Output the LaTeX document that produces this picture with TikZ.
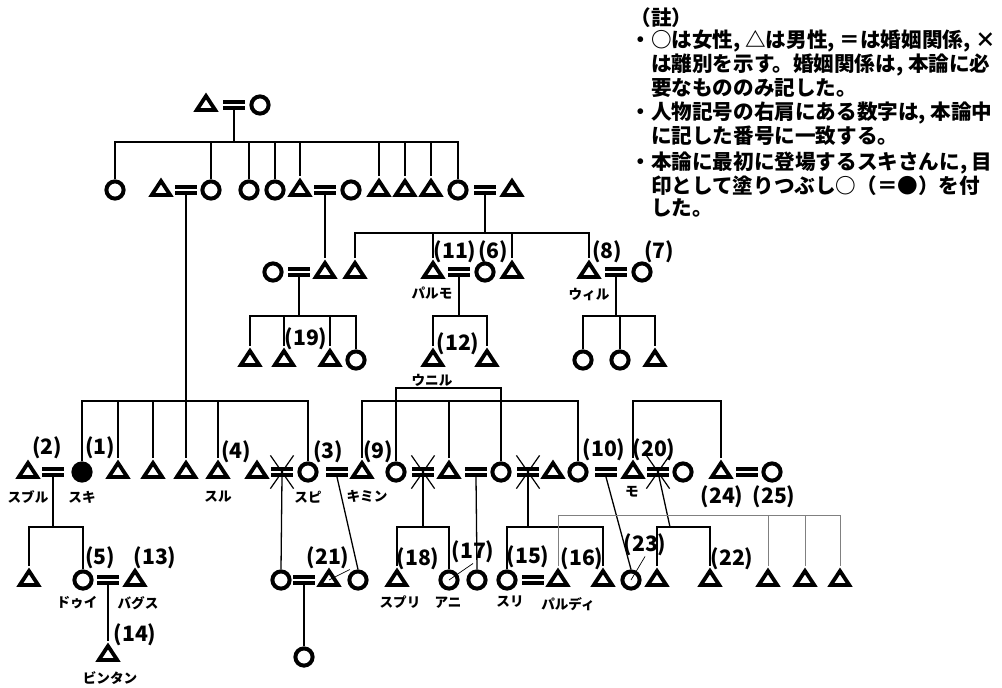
\documentclass[tikz,border=0pt]{standalone}
\usepackage{fontspec}
\usetikzlibrary{shapes.geometric,shapes.misc}
\newfontfamily\jp{Noto Sans CJK JP}
\newcommand{\notesize}{\fontsize{10.3}{10.8}\selectfont}

\begin{document}
\begin{tikzpicture}[x=0.5pt,y=-0.5pt,
	fem/.style={circle,draw,line width=2pt,minimum size=8.6pt,inner sep=0pt},
	femfill/.style={fem,fill},
	mal/.style={isosceles triangle,isosceles triangle stretches,shape border rotate=90,draw,line width=1.9pt,minimum width=9.2pt,minimum height=7pt,inner sep=0pt},
	wed/.style={minimum width=11pt,minimum height=4.6pt,inner sep=0pt,path picture={
		\fill (path picture bounding box.north west) rectangle ([yshift=-1.6pt]path picture bounding box.north east);
		\fill ([yshift=1.6pt]path picture bounding box.south west) rectangle (path picture bounding box.south east);}},
	divx/.style={cross out,draw,line width=0.6pt,minimum width=11pt,minimum height=16pt,inner sep=0pt},
	num/.style={font=\jp\bfseries\fontsize{10.6}{10.6}\selectfont,inner sep=0pt},
	nm/.style={font=\jp\bfseries\fontsize{6.8}{6.8}\selectfont,inner sep=0pt},
	lnk/.style={line width=0.65pt},
	thinlnk/.style={line width=0.4pt,gray},
	lead/.style={line width=0.35pt}]
\useasboundingbox (0,0) rectangle (1002,687);

% note
\node[font=\jp\bfseries\notesize,anchor=north west,inner sep=0pt] (note0) at (630,7) {（註）};
\node[font=\jp\bfseries\notesize,anchor=north west,inner sep=0pt,align=left] (note1) at (630,29)
	{・○は女性, △は男性, ＝は婚姻関係, ×\\\hspace*{1em}は離別を示す。婚姻関係は, 本論に必\\\hspace*{1em}要なもののみ記した。};
\node[font=\jp\bfseries\notesize,anchor=north west,inner sep=0pt,align=left] (note2) at (630,101)
	{・人物記号の右肩にある数字は, 本論中\\\hspace*{1em}に記した番号に一致する。};
\node[font=\jp\bfseries\notesize,anchor=north west,inner sep=0pt,align=left] (note3) at (630,151)
	{・本論に最初に登場するスキさんに, 目\\\hspace*{1em}印として塗りつぶし○（＝●）を付\\\hspace*{1em}した。};

% generation 1
\node[mal] (g0m) at (206,105) {};
\node[wed] (g0w) at (234,105) {};
\node[fem] (g0f) at (260,105) {};
\coordinate (k0) at (234,142);
\draw[lnk] (g0w.south) -- (k0);

% generation 2
\node[fem] (a1) at (115,190) {};
\node[mal] (a2) at (161,190) {};
\node[wed] (a2w) at (186,190) {};
\node[fem] (a3) at (211,190) {};
\node[fem] (a4) at (249,190) {};
\node[fem] (a5) at (275,190) {};
\node[mal] (a6) at (300,190) {};
\node[wed] (a6w) at (325,190) {};
\node[fem] (a7) at (351,190) {};
\node[mal] (a8) at (379,190) {};
\node[mal] (a9) at (405,190) {};
\node[mal] (a10) at (431,190) {};
\node[fem] (a11) at (458,190) {};
\node[wed] (a11w) at (485,190) {};
\node[mal] (a12) at (512,190) {};
\draw[lnk] (a1.north) |- (a11.north |- k0) -- (a11.north);
\foreach \n in {a3,a4,a5,a6,a8,a9,a10} \draw[lnk] (\n.north) -- (\n.north |- k0);

% generation 3
\node[fem] (b1) at (273,272) {};
\node[wed] (b1w) at (299,272) {};
\node[mal] (b2) at (325,272) {};
\node[mal] (b3) at (355,272) {};
\node[mal] (b4) at (433,272) {};
\node[wed] (b4w) at (459,272) {};
\node[fem] (b5) at (485,272) {};
\node[mal] (b6) at (512,272) {};
\node[mal] (b7) at (589,272) {};
\node[wed] (b7w) at (616,272) {};
\node[fem] (b8) at (642,272) {};
\draw[lnk] (a6w.south) -- (b2.north);
\coordinate (k1) at (485,233);
\draw[lnk] (a11w.south) -- (k1);
\draw[lnk] (b3.north) |- (b7.north |- k1) -- (b7.north);
\foreach \n in {b4,b6} \draw[lnk] (\n.north) -- (\n.north |- k1);

\node[mal] (c1) at (250,360) {};
\node[mal] (c2) at (284,360) {};
\node[mal] (c3) at (330,360) {};
\node[fem] (c4) at (356,360) {};
\coordinate (k2) at (299,316);
\draw[lnk] (b1w.south) -- (k2);
\draw[lnk] (c1.north) |- (c4.north |- k2) -- (c4.north);
\foreach \n in {c2,c3} \draw[lnk] (\n.north) -- (\n.north |- k2);

\node[mal] (c5) at (433,360) {};
\node[mal] (c6) at (487,360) {};
\coordinate (k3) at (459,316);
\draw[lnk] (b4w.south) -- (k3);
\draw[lnk] (c5.north) |- (c6.north |- k3) -- (c6.north);

\node[fem] (c7) at (583,360) {};
\node[fem] (c8) at (620,360) {};
\node[mal] (c9) at (655,360) {};
\coordinate (k4) at (616,316);
\draw[lnk] (b7w.south) -- (k4);
\draw[lnk] (c7.north) |- (c9.north |- k4) -- (c9.north);
\draw[lnk] (c8.north) -- (c8.north |- k4);

% generation 4
\node[mal] (d1) at (28,472) {};
\node[wed] (d1w) at (53,472) {};
\node[femfill] (d2) at (82,472) {};
\node[mal] (d3) at (118,472) {};
\node[mal] (d4) at (153,472) {};
\node[mal] (d5) at (186,472) {};
\node[mal] (d6) at (218,472) {};
\node[mal] (d7) at (257,472) {};
\node[wed] (d7w) at (282,472) {};
\node[divx] (d7x) at (282,472) {};
\node[fem] (d8) at (308,472) {};
\node[wed] (d8w) at (337,472) {};
\node[mal] (d9) at (362,472) {};
\node[fem] (d10) at (396,472) {};
\node[wed] (d10w) at (423,472) {};
\node[divx] (d10x) at (423,472) {};
\node[mal] (d11) at (449,472) {};
\node[wed] (d11w) at (476,472) {};
\node[fem] (d12) at (501,472) {};
\node[wed] (d12w) at (528,472) {};
\node[divx] (d12x) at (528,472) {};
\node[mal] (d13) at (553,472) {};
\node[fem] (d14) at (578,472) {};
\node[wed] (d14w) at (606,472) {};
\node[mal] (d15) at (633,472) {};
\node[wed] (d15w) at (658,472) {};
\node[divx] (d15x) at (658,472) {};
\node[fem] (d16) at (683,472) {};
\node[mal] (d17) at (721,472) {};
\node[wed] (d17w) at (747,472) {};
\node[fem] (d18) at (772,472) {};

\coordinate (k5) at (186,401);
\draw[lnk] (a2w.south) -- (k5);
\draw[lnk] (d2.north) |- (d8.north |- k5) -- (d8.north);
\foreach \n in {d3,d4,d5,d6} \draw[lnk] (\n.north) -- (\n.north |- k5);
\coordinate (k6) at (449,401);
\draw[lnk] (d9.north) |- (d14.north |- k6) -- (d14.north);
\draw[lnk] (d11.north) -- (d11.north |- k6);
\coordinate (k7) at (633,401);
\draw[lnk] (d15.north) |- (d17.north |- k7) -- (d17.north);
\coordinate (k8) at (449,388);
\draw[lnk] (d10.north) |- (d12.north |- k8) -- (d12.north);

% generation 5
\node[mal] (e1) at (29,580) {};
\node[fem] (e2) at (83,580) {};
\node[wed] (e2w) at (108,580) {};
\node[mal] (e3) at (135,580) {};
\coordinate (k9) at (53,527);
\draw[lnk] (d1w.south) -- (k9);
\draw[lnk] (e1.north) |- (e2.north |- k9) -- (e2.north);
\node[mal] (f1) at (108,655) {};
\draw[lnk] (e2w.south) -- (f1.north);

\node[fem] (e4) at (281,580) {};
\node[wed] (e4w) at (304,580) {};
\node[mal] (e5) at (329,580) {};
\draw[lnk] (d7w.south) -- (e4.north);
\node[fem] (f2) at (304,657) {};
\draw[lnk] (e4w.south) -- (f2.north);
\node[fem] (e6) at (358,580) {};
\draw[lnk] (d8w.south) -- (e6.north);

\node[mal] (e7) at (397,580) {};
\node[fem] (e8) at (449,580) {};
\coordinate (k10) at (423,527);
\draw[lnk] (d10w.south) -- (k10);
\draw[lnk] (e7.north) |- (e8.north |- k10) -- (e8.north);
\node[fem] (e9) at (477,580) {};
\draw[lnk] (d11w.south) -- (e9.north);

\node[fem] (e10) at (507,580) {};
\node[wed] (e10w) at (533,580) {};
\node[mal] (e11) at (558,580) {};
\node[mal] (e12) at (603,580) {};
\coordinate (k11) at (528,527);
\draw[lnk] (d12w.south) -- (k11);
\draw[lnk] (e10.north) |- (e12.north |- k11) -- (e12.north);

\node[fem] (e13) at (631,580) {};
\draw[lnk] (d14w.south) -- (e13.north);
\node[mal] (e14) at (657,580) {};
\node[mal] (e15) at (710,580) {};
\coordinate (k12) at (670,527);
\draw[lnk] (d15w.center) -- (k12);
\draw[lnk] (e14.north) |- (e15.north |- k12) -- (e15.north);

\node[mal] (e16) at (768,580) {};
\node[mal] (e17) at (805,580) {};
\node[mal] (e18) at (840,580) {};
\coordinate (k13) at (700,515);
\draw[thinlnk] (e11.north) |- (e18.north |- k13) -- (e18.north);
\foreach \n in {e16,e17} \draw[thinlnk] (\n.north) -- (\n.north |- k13);

% numbers
\node[num] (n11) at (455,252) {(11)};
\node[num] (n6) at (493,252) {(6)};
\node[num] (n8) at (607,252) {(8)};
\node[num] (n7) at (659,252) {(7)};
\node[num] (n19) at (306,339) {(19)};
\node[num] (n12) at (458,344) {(12)};
\node[num] (n2) at (47,448) {(2)};
\node[num] (n1) at (100,448) {(1)};
\node[num] (n4) at (236,452) {(4)};
\node[num] (n3) at (328,452) {(3)};
\node[num] (n9) at (378,452) {(9)};
\node[num] (n10) at (604,450) {(10)};
\node[num] (n20) at (654,450) {(20)};
\node[num] (n24) at (722,497) {(24)};
\node[num] (n25) at (774,497) {(25)};
\node[num] (n5) at (100,558) {(5)};
\node[num] (n13) at (155,558) {(13)};
\node[num] (n14) at (135,635) {(14)};
\node[num] (n21) at (328,558) {(21)};
\node[num] (n18) at (418,559) {(18)};
\node[num] (n17) at (473,552) {(17)};
\node[num] (n15) at (528,557) {(15)};
\node[num] (n16) at (582,559) {(16)};
\node[num] (n23) at (645,545) {(23)};
\node[num] (n22) at (732,559) {(22)};
\draw[lead] (n21.south east) -- (e5.center);
\draw[lead] (n17.south) -- (e8.center);
\draw[lead] (n23.south) -- (e13.center);

% names
\node[nm] (lParumo) at (432,293) {パルモ};
\node[nm] (lWiru) at (589,295) {ウィル};
\node[nm] (lUniru) at (432,380) {ウニル};
\node[nm] (lSuburu) at (28,497) {スブル};
\node[nm] (lSuki) at (82,497) {スキ};
\node[nm] (lSuru) at (218,497) {スル};
\node[nm] (lSupi) at (308,497) {スピ};
\node[nm] (lKimin) at (367,496) {キミン};
\node[nm] (lMo) at (632,492) {モ};
\node[nm] (lDui) at (77,603) {ドゥイ};
\node[nm] (lBagusu) at (138,603) {バグス};
\node[nm] (lBintan) at (110,678) {ビンタン};
\node[nm] (lSupuri) at (400,602) {スプリ};
\node[nm] (lAni) at (448,603) {アニ};
\node[nm] (lSuri) at (510,602) {スリ};
\node[nm] (lParudi) at (568,604) {パルディ};
\end{tikzpicture}
\end{document}
